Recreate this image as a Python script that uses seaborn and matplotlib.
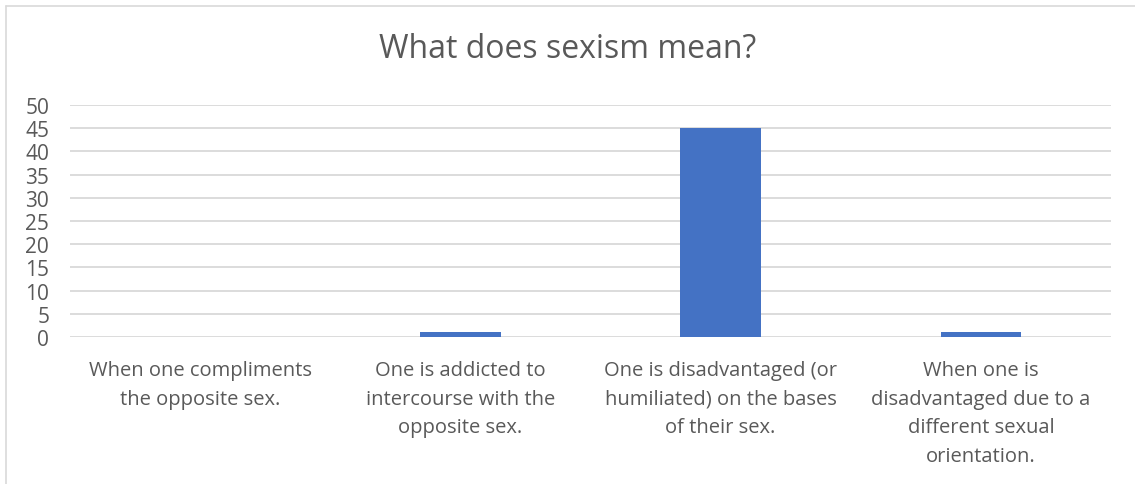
import matplotlib
matplotlib.use("Agg")
import matplotlib.pyplot as plt
import seaborn as sns
import pandas as pd
from matplotlib.lines import Line2D

categories = [
    "When one compliments\nthe opposite sex.",
    "One is addicted to\nintercourse with the\nopposite sex.",
    "One is disadvantaged (or\nhumiliated) on the bases\nof their sex.",
    "When one is\ndisadvantaged due to a\ndifferent sexual\norientation.",
]
responses = [0, 1, 45, 1]
y_ticks = [0, 5, 10, 15, 20, 25, 30, 35, 40, 45, 50]

df = pd.DataFrame({"answer": categories, "count": responses})

sns.set_theme(style="white")
plt.rcParams["font.family"] = ["Open Sans", "DejaVu Sans"]

text_color = "#595959"
grid_color = "#D9D9D9"

fig = plt.figure(figsize=(11.35, 4.85), dpi=100)
ax = fig.add_axes([70 / 1135, 1 - 338 / 485, (1111 - 70) / 1135, (338 - 106) / 485])

sns.barplot(data=df, x="answer", y="count", color="#4472C4", width=0.31,
            saturation=1, linewidth=0, ax=ax, zorder=3)

ax.set_ylim(0, 50)
ax.set_xlim(-0.5, 3.5)
ax.set_yticks(y_ticks)
ax.set_yticklabels([str(t) for t in y_ticks], fontsize=15, color=text_color)
ax.set_xticks(range(len(categories)))
ax.set_xticklabels(categories, fontsize=14.5, color=text_color, linespacing=1.58)
ax.tick_params(axis="both", length=0)
ax.tick_params(axis="y", pad=15)
ax.tick_params(axis="x", pad=16.5)
for lbl in ax.get_xticklabels():
    lbl.set_verticalalignment("top")
ax.yaxis.grid(True, color=grid_color, linewidth=1.3, zorder=0)
ax.set_axisbelow(True)
for s in ax.spines.values():
    s.set_visible(False)
ax.set_xlabel("")
ax.set_ylabel("")

fig.text(0.5, 1 - 50 / 485, "What does sexism mean?", ha="center", va="center",
         fontsize=23, color=text_color)

# chart area border
fig.add_artist(Line2D([6 / 1135, 6 / 1135], [0, 1 - 7 / 485], transform=fig.transFigure,
                      color=grid_color, linewidth=1.2))
fig.add_artist(Line2D([6 / 1135, 1], [1 - 7 / 485, 1 - 7 / 485], transform=fig.transFigure,
                      color=grid_color, linewidth=1.2))

fig.savefig("out.png", dpi=100)
